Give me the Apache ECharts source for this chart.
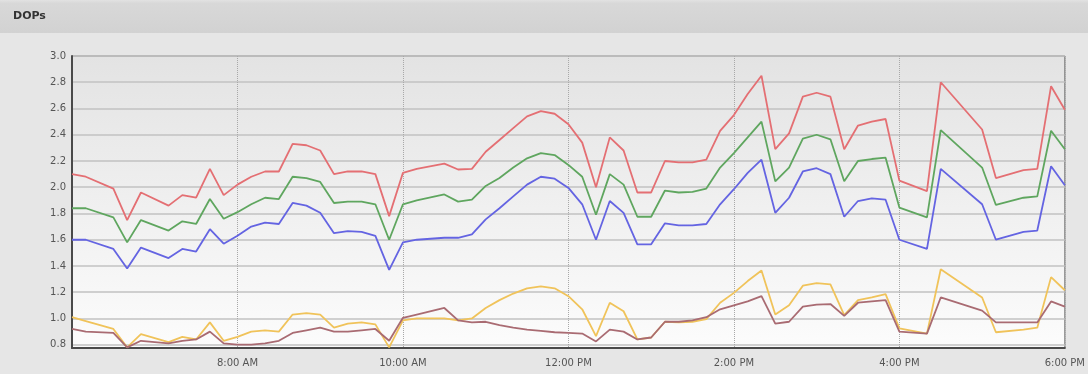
<!DOCTYPE html>
<html>
<head>
<meta charset="utf-8">
<script src="https://cdn.jsdelivr.net/npm/echarts@6/dist/echarts.min.js"></script>
<style>
  html, body { margin: 0; padding: 0; background: #e6e6e6; }
  #chart { width: 1088px; height: 374px; }
</style>
</head>
<body>
<div id="chart"></div>
<script>
// Sample times (24h clock) shared by every DOP series
const times = [
  '06:00','06:10','06:30','06:40','06:50','07:10','07:20','07:30','07:40','07:50',
  '08:00','08:10','08:20','08:30','08:40','08:50','09:00','09:10','09:20','09:30','09:40','09:50',
  '10:00','10:10','10:30','10:40','10:50',
  '11:00','11:10','11:20','11:30','11:40','11:50',
  '12:00','12:10','12:20','12:30','12:40','12:50','13:00','13:10','13:20','13:30','13:40','13:50',
  '14:00','14:10','14:20','14:30','14:40','14:50','15:00','15:10','15:20','15:30','15:40','15:50',
  '16:00','16:20','16:30','17:00','17:10','17:30','17:40','17:50','18:00'
];

const redDop = [
  2.10, 2.08, 1.99, 1.75, 1.96, 1.86, 1.94, 1.92, 2.14, 1.94,
  2.02, 2.08, 2.12, 2.12, 2.33, 2.32, 2.28, 2.10, 2.12, 2.12, 2.10, 1.78,
  2.11, 2.14, 2.18, 2.135, 2.14,
  2.27, 2.36, 2.45, 2.54, 2.58, 2.56,
  2.48, 2.34, 2.00, 2.38, 2.28, 1.96, 1.96, 2.20, 2.19, 2.19, 2.21, 2.43,
  2.55, 2.71, 2.85, 2.29, 2.41, 2.69, 2.72, 2.69, 2.29, 2.47, 2.50, 2.52,
  2.05, 1.97, 2.80, 2.44, 2.07, 2.13, 2.14, 2.77, 2.59
];

const greenDop = [
  1.84, 1.84, 1.77, 1.58, 1.75, 1.67, 1.74, 1.72, 1.91, 1.76,
  1.81, 1.87, 1.92, 1.91, 2.08, 2.07, 2.04, 1.88, 1.89, 1.89, 1.87, 1.60,
  1.87, 1.90, 1.945, 1.89, 1.905,
  2.01, 2.07, 2.15, 2.22, 2.26, 2.245,
  2.17, 2.08, 1.79, 2.10, 2.02, 1.775, 1.775, 1.975, 1.96, 1.965, 1.99, 2.15,
  2.26, 2.38, 2.50, 2.045, 2.15, 2.37, 2.40, 2.365, 2.045, 2.20, 2.215, 2.225,
  1.845, 1.77, 2.435, 2.15, 1.865, 1.92, 1.93, 2.43, 2.29
];

const blueDop = [
  1.60, 1.60, 1.53, 1.38, 1.54, 1.46, 1.53, 1.51, 1.68, 1.57,
  1.63, 1.70, 1.73, 1.72, 1.88, 1.86, 1.805, 1.65, 1.665, 1.66, 1.63, 1.37,
  1.58, 1.60, 1.615, 1.615, 1.64,
  1.755, 1.84, 1.93, 2.02, 2.08, 2.065,
  1.995, 1.87, 1.60, 1.895, 1.805, 1.565, 1.565, 1.725, 1.71, 1.71, 1.72, 1.87,
  1.985, 2.11, 2.21, 1.805, 1.92, 2.12, 2.145, 2.10, 1.775, 1.895, 1.915, 1.905,
  1.60, 1.53, 2.14, 1.87, 1.60, 1.66, 1.67, 2.16, 2.015
];

const yellowDop = [
  1.01, 0.98, 0.92, 0.78, 0.88, 0.82, 0.86, 0.84, 0.97, 0.83,
  0.86, 0.90, 0.91, 0.90, 1.03, 1.04, 1.03, 0.93, 0.96, 0.97, 0.955, 0.78,
  0.985, 1.00, 1.00, 0.985, 1.00,
  1.08, 1.14, 1.19, 1.23, 1.245, 1.23,
  1.17, 1.07, 0.865, 1.12, 1.055, 0.84, 0.855, 0.975, 0.97, 0.975, 0.995, 1.12,
  1.195, 1.285, 1.365, 1.03, 1.10, 1.25, 1.27, 1.26, 1.025, 1.14, 1.16, 1.185,
  0.925, 0.885, 1.375, 1.16, 0.895, 0.915, 0.93, 1.315, 1.215
];

const mauveDop = [
  0.92, 0.90, 0.89, 0.78, 0.83, 0.81, 0.83, 0.84, 0.90, 0.81,
  0.80, 0.80, 0.81, 0.83, 0.89, 0.91, 0.93, 0.90, 0.90, 0.91, 0.92, 0.83,
  1.005, 1.03, 1.08, 0.985, 0.97,
  0.975, 0.95, 0.93, 0.915, 0.905, 0.895,
  0.89, 0.885, 0.825, 0.915, 0.90, 0.84, 0.855, 0.975, 0.975, 0.985, 1.01, 1.07,
  1.10, 1.13, 1.17, 0.96, 0.975, 1.09, 1.105, 1.11, 1.02, 1.12, 1.13, 1.14,
  0.90, 0.885, 1.16, 1.06, 0.97, 0.97, 0.97, 1.13, 1.09
];

// Value-axis labels
const yTicks = [0.8, 1.0, 1.2, 1.4, 1.6, 1.8, 2.0, 2.2, 2.4, 2.6, 2.8, 3.0];

function toMinutes(t) {
  const parts = t.split(':').map(Number);
  return parts[0] * 60 + parts[1];
}

function pairs(values) {
  return times.map((t, i) => [toMinutes(t), values[i]]);
}

function clockLabel(min) {
  if (min <= 360) return '';
  const h = Math.floor(min / 60);
  const m = min % 60;
  const suffix = h >= 12 ? 'PM' : 'AM';
  let h12 = h % 12;
  if (h12 === 0) h12 = 12;
  return h12 + ':' + String(m).padStart(2, '0') + ' ' + suffix;
}

function lineSeries(name, values, color) {
  return {
    name: name,
    type: 'line',
    data: pairs(values),
    showSymbol: false,
    symbol: 'none',
    lineStyle: { color: color, width: 1.8 },
    itemStyle: { color: color },
    animation: false
  };
}

const chart = echarts.init(document.getElementById('chart'));

chart.setOption({
  backgroundColor: '#e6e6e6',
  animation: false,
  title: {
    text: 'DOPs',
    left: 8,
    top: 6,
    textStyle: { fontFamily: 'DejaVu Sans', fontSize: 11, fontWeight: 'bold', color: '#333' }
  },
  graphic: [
    {
      type: 'rect',
      left: 0, top: 0, z: -10,
      shape: { width: 1088, height: 33 },
      style: {
        fill: new echarts.graphic.LinearGradient(0, 0, 0, 1, [
          { offset: 0, color: '#e2e2e2' },
          { offset: 0.1, color: '#d8d8d8' },
          { offset: 1, color: '#d2d2d2' }
        ])
      }
    }
  ],
  grid: {
    left: 72, right: 21, top: 56, bottom: 26,
    show: true,
    borderColor: '#6a6a6a',
    borderWidth: 1,
    backgroundColor: new echarts.graphic.LinearGradient(0, 0, 0, 1, [
      { offset: 0, color: '#e3e3e3' },
      { offset: 1, color: '#fcfcfc' }
    ])
  },
  xAxis: {
    type: 'value',
    min: 360, max: 1080, interval: 120,
    axisLine: { show: true, lineStyle: { color: '#4a4a4a', width: 2 } },
    axisTick: { show: false },
    axisLabel: {
      formatter: clockLabel,
      color: '#555',
      fontFamily: 'DejaVu Sans',
      fontSize: 10,
      margin: 10,
      showMaxLabel: true,
      showMinLabel: true
    },
    splitLine: { show: true, lineStyle: { color: '#a8a8a8', type: 'dotted', width: 1 } }
  },
  yAxis: {
    type: 'value',
    min: 0.775, max: 3.0,
    axisLine: { show: true, lineStyle: { color: '#4a4a4a', width: 2 } },
    axisTick: { show: false, customValues: yTicks },
    axisLabel: {
      customValues: yTicks,
      formatter: v => v.toFixed(1),
      color: '#555',
      fontFamily: 'DejaVu Sans',
      fontSize: 10,
      margin: 6
    },
    splitLine: { show: true, lineStyle: { color: '#c2c2c2', width: 1.5 } }
  },
  series: [
    lineSeries('Yellow', yellowDop, '#f0c35a'),
    lineSeries('Mauve', mauveDop, '#a96b72'),
    lineSeries('Blue', blueDop, '#6464e2'),
    lineSeries('Green', greenDop, '#5fa65f'),
    lineSeries('Red', redDop, '#e46f73')
  ]
});
</script>
</body>
</html>
